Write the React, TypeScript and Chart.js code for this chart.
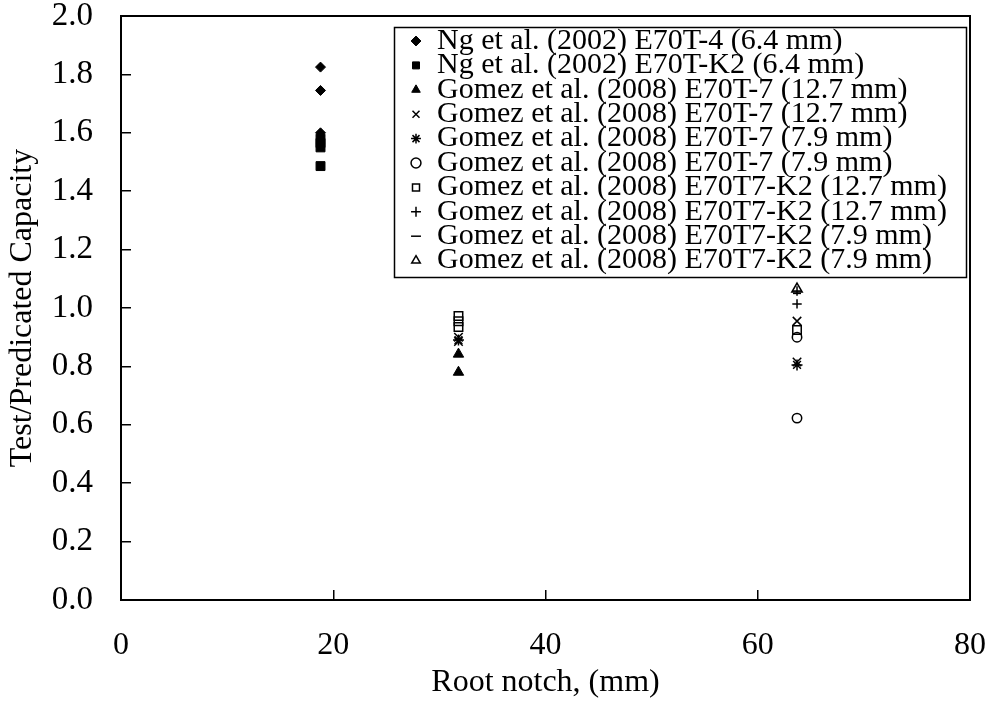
import React, { useEffect, useRef } from 'react';
import { Chart, registerables } from 'chart.js';

Chart.register(...registerables);

// ---- Data ----
const seriesLabels = [
  'Ng et al. (2002) E70T-4 (6.4 mm)',
  'Ng et al. (2002) E70T-K2 (6.4 mm)',
  'Gomez et al. (2008) E70T-7 (12.7 mm)',
  'Gomez et al. (2008) E70T-7 (12.7 mm)',
  'Gomez et al. (2008) E70T-7 (7.9 mm)',
  'Gomez et al. (2008) E70T-7 (7.9 mm)',
  'Gomez et al. (2008) E70T7-K2 (12.7 mm)',
  'Gomez et al. (2008) E70T7-K2 (12.7 mm)',
  'Gomez et al. (2008) E70T7-K2 (7.9 mm)',
  'Gomez et al. (2008) E70T7-K2 (7.9 mm)',
];

const ngE70T4 = [
  { x: 18.8, y: 1.825 },
  { x: 18.8, y: 1.745 },
  { x: 18.8, y: 1.6 },
];
const ngE70TK2 = [
  { x: 18.8, y: 1.58 },
  { x: 18.8, y: 1.565 },
  { x: 18.8, y: 1.55 },
  { x: 18.8, y: 1.486 },
];
const gomezT7_127a = [
  { x: 31.8, y: 0.842 },
  { x: 31.8, y: 0.78 },
];
const gomezT7_127b = [
  { x: 31.8, y: 0.9 },
  { x: 31.8, y: 0.885 },
  { x: 63.7, y: 0.955 },
  { x: 63.7, y: 0.815 },
];
const gomezT7_79a = [
  { x: 31.8, y: 0.89 },
  { x: 63.7, y: 0.805 },
];
const gomezT7_79b = [
  { x: 63.7, y: 0.9 },
  { x: 63.7, y: 0.623 },
];
const gomezK2_127a = [
  { x: 31.8, y: 0.973 },
  { x: 31.8, y: 0.955 },
  { x: 31.8, y: 0.935 },
  { x: 63.7, y: 0.925 },
];
const gomezK2_127b = [
  { x: 63.7, y: 1.058 },
  { x: 63.7, y: 1.014 },
];
const gomezK2_79a = [{ x: 63.7, y: 1.05 }];
const gomezK2_79b = [{ x: 63.7, y: 1.065 }];

const seriesData = [
  ngE70T4,
  ngE70TK2,
  gomezT7_127a,
  gomezT7_127b,
  gomezT7_79a,
  gomezT7_79b,
  gomezK2_127a,
  gomezK2_127b,
  gomezK2_79a,
  gomezK2_79b,
];

const xTickMin = 0;
const xTickMax = 80;
const xTickStep = 20;
const yTickMin = 0;
const yTickMax = 2;
const yTickStep = 0.2;

// ---- Styles ----
const markerStyles = [
  { pointStyle: 'rectRot', filled: true, radius: 5 },
  { pointStyle: 'rect', filled: true, radius: 6.3 },
  { pointStyle: 'triangle', filled: true, radius: 6 },
  { pointStyle: 'crossRot', filled: false, radius: 6 },
  { pointStyle: 'star', filled: false, radius: 5.5 },
  { pointStyle: 'circle', filled: false, radius: 4.7 },
  { pointStyle: 'rect', filled: false, radius: 6 },
  { pointStyle: 'cross', filled: false, radius: 4.7 },
  { pointStyle: 'line', filled: false, radius: 4 },
  { pointStyle: 'triangle', filled: false, radius: 6 },
];

const SERIF = "'Liberation Serif', 'Times New Roman', serif";
const LEGEND_FONT = 30;
const LEGEND_PAD = -5.6;
const LEGEND_BOXW = 12;
const LEGEND_LEFT = 415.6;
const LEGEND_TOP = 31.6;
const LEGEND_BOX = { x: 394.5, y: 27.5, w: 572, h: 250 };

const legendPlacer = {
  id: 'legendPlacer',
  afterLayout(chart: any) {
    const lg = chart.legend;
    if (!lg) return;
    const w = lg.width;
    const h = lg.height;
    lg.left = LEGEND_LEFT;
    lg.top = LEGEND_TOP;
    lg.right = LEGEND_LEFT + w;
    lg.bottom = LEGEND_TOP + h;
    if (!lg.__noClip) {
      // the legend uses a negative padding (tight line spacing); skip its own clip box
      lg.draw = function () {
        if (this.options.display) this._draw();
      };
      lg.__noClip = true;
    }
  },
};

const framePlugin = {
  id: 'framePlugin',
  afterDraw(chart: any) {
    const { ctx, chartArea } = chart;
    ctx.save();
    ctx.strokeStyle = '#000';
    ctx.lineWidth = 2;
    ctx.strokeRect(chartArea.left, chartArea.top, chartArea.right - chartArea.left, chartArea.bottom - chartArea.top);
    ctx.lineWidth = 1.5;
    ctx.strokeRect(LEGEND_BOX.x, LEGEND_BOX.y, LEGEND_BOX.w, LEGEND_BOX.h);
    ctx.restore();
  },
};

const zeroPadding = (scale: any) => {
  scale.paddingTop = 0;
  scale.paddingBottom = 0;
  scale.paddingLeft = 0;
  scale.paddingRight = 0;
};

export default function App() {
  const canvasRef = useRef<HTMLCanvasElement | null>(null);

  useEffect(() => {
    if (!canvasRef.current) return;
    const datasets = seriesData.map((data, i) => {
      const m = markerStyles[i];
      return {
        label: seriesLabels[i],
        data,
        pointStyle: m.pointStyle,
        pointRadius: m.radius,
        pointHoverRadius: m.radius,
        backgroundColor: m.filled ? '#000' : 'rgba(255,255,255,0)',
        borderColor: '#000',
        borderWidth: m.filled ? 1 : 1.5,
        showLine: false,
      };
    });

    const chart = new Chart(canvasRef.current, {
      type: 'scatter',
      data: { datasets },
      plugins: [legendPlacer, framePlugin],
      options: {
        animation: false,
        responsive: true,
        maintainAspectRatio: false,
        layout: { padding: { left: 0, top: 16, right: 21, bottom: 0 } },
        plugins: {
          tooltip: { enabled: false },
          legend: {
            display: true,
            position: 'chartArea',
            align: 'start',
            labels: {
              usePointStyle: true,
              boxWidth: LEGEND_BOXW,
              boxHeight: 7,
              padding: LEGEND_PAD,
              color: '#000',
              font: { family: SERIF, size: LEGEND_FONT },
            },
          },
        },
        scales: {
          x: {
            type: 'linear',
            min: xTickMin,
            max: xTickMax,
            afterFit: (scale: any) => {
              scale.height = 115;
              zeroPadding(scale);
            },
            ticks: {
              stepSize: xTickStep,
              autoSkip: false,
              maxRotation: 0,
              padding: 36,
              color: '#000',
              font: { family: SERIF, size: 32 },
            },
            grid: {
              display: true,
              drawOnChartArea: false,
              drawTicks: true,
              tickLength: -10,
              color: '#000',
              lineWidth: 1.5,
            },
            border: { display: true, color: '#000', width: 2 },
            title: {
              display: true,
              text: 'Root notch, (mm)',
              color: '#000',
              font: { family: SERIF, size: 32 },
              padding: { top: 0, bottom: 13 },
            },
          },
          y: {
            type: 'linear',
            min: yTickMin,
            max: yTickMax,
            afterFit: (scale: any) => {
              scale.width = 121;
              zeroPadding(scale);
            },
            ticks: {
              stepSize: yTickStep,
              autoSkip: false,
              padding: 38,
              color: '#000',
              font: { family: SERIF, size: 33 },
              callback: (v: any) => Number(v).toFixed(1),
            },
            grid: {
              display: true,
              drawOnChartArea: false,
              drawTicks: true,
              tickLength: -10,
              color: '#000',
              lineWidth: 1.5,
            },
            border: { display: true, color: '#000', width: 2 },
            title: {
              display: true,
              text: 'Test/Predicated Capacity',
              color: '#000',
              font: { family: SERIF, size: 32 },
              padding: { top: 3, bottom: 0 },
            },
          },
        },
      } as any,
    });
    return () => chart.destroy();
  }, []);

  return (
    <div style={{ position: 'absolute', left: 0, top: 0, width: 991, height: 715, background: '#fff' }}>
      <canvas ref={canvasRef} />
    </div>
  );
}
